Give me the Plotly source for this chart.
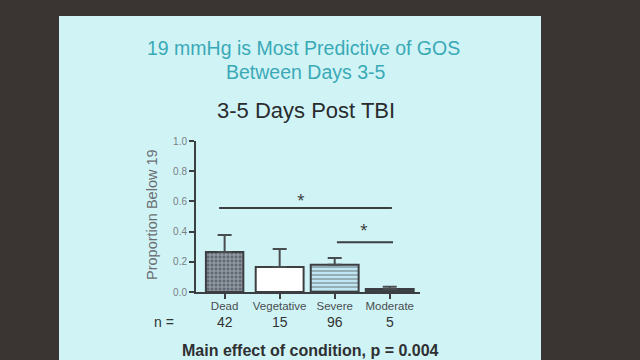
import plotly.graph_objects as go

categories = ["Dead", "Vegetative", "Severe", "Moderate"]
proportion = [0.265, 0.166, 0.18, 0.02]
sem_upper = [0.112, 0.119, 0.045, 0.015]
n_values = [42, 15, 96, 5]
y_ticks = [0.0, 0.2, 0.4, 0.6, 0.8, 1.0]

# significance brackets: (x start, x end, y level, star x, star y)
sig_lines = [(-0.1, 3.04, 0.556, 1.39, 0.615), (2.04, 3.06, 0.33, 2.53, 0.415)]

x_pos = list(range(len(categories)))
bar_widths = [0.68, 0.87, 0.87, 0.87]
fill_colors = ["#5f6874", "#ffffff", "#bfe6f2", "#3d4248"]
pattern_shapes = ["+", "", "-", ""]
pattern_fg = ["#8a96a4", "#ffffff", "#ffffff", "#3d4248"]

L, R, T, B = 196, 220, 141, 68
W, H = 640, 360
PW, PH = W - L - R, H - T - B


def xp(px):
    return (px - L) / PW


def yp(py):
    return (H - B - py) / PH


fig = go.Figure()
fig.add_trace(go.Bar(
    x=x_pos, y=proportion, width=bar_widths,
    marker=dict(color=fill_colors, line=dict(color="#3c3f42", width=2),
                pattern=dict(shape=pattern_shapes, fgcolor=pattern_fg,
                             bgcolor=fill_colors, size=4, solidity=0.35)),
    error_y=dict(type="data", array=sem_upper, arrayminus=[0] * 4,
                 symmetric=False, color="#4a4d50", thickness=2, width=7),
    showlegend=False, hoverinfo="skip",
))

shapes = [
    dict(type="rect", xref="paper", yref="paper",
         x0=xp(59), x1=xp(541), y0=yp(370), y1=yp(16),
         fillcolor="#d0f4f6", line=dict(width=0), layer="below"),
]
annotations = []
for x0, x1, yl, sx, sy in sig_lines:
    shapes.append(dict(type="line", xref="x", yref="y", x0=x0, x1=x1,
                       y0=yl, y1=yl, line=dict(color="#3c3f42", width=2)))
    annotations.append(dict(x=sx, y=sy, xref="x", yref="y", text="*",
                            showarrow=False, font=dict(size=14, color="#333")))


def txt(px, py, text, size, color, angle=0):
    return dict(x=xp(px), y=yp(py), xref="paper", yref="paper", text=text,
                showarrow=False, xanchor="center", yanchor="middle",
                textangle=angle,
                font=dict(size=size, color=color, family="Liberation Sans"))


annotations += [
    txt(303, 48, "19 mmHg is Most Predictive of GOS", 19.5, "#3aa9b6"),
    txt(305, 72, "Between Days 3-5", 19.5, "#3aa9b6"),
    txt(306, 110, "3-5 Days Post TBI", 22, "#2a2c2e"),
    txt(152, 215, "Proportion Below 19", 14.5, "#6a6e72", -90),
    txt(164, 322, "n =", 14, "#333"),
    txt(310, 350, "<b>Main effect of condition, p = 0.004</b>", 16, "#2e3032"),
]
for i, n in enumerate(n_values):
    annotations.append(dict(x=x_pos[i], y=yp(322), xref="x", yref="paper",
                            text=str(n), showarrow=False,
                            xanchor="center", yanchor="middle",
                            font=dict(size=14, color="#333", family="Liberation Sans")))

fig.update_layout(
    width=W, height=H,
    margin=dict(l=L, r=R, t=T, b=B),
    paper_bgcolor="#3a3532", plot_bgcolor="rgba(0,0,0,0)",
    shapes=shapes, annotations=annotations,
    xaxis=dict(range=[-0.52, 3.55], tickvals=x_pos, ticktext=categories,
               showgrid=False, zeroline=False, showline=True,
               linecolor="#3c3f42", linewidth=2, ticks="outside", ticklen=5,
               tickcolor="#3c3f42", tickwidth=2, ticklabelstandoff=-3,
               tickfont=dict(size=11.5, color="#4a4d50", family="Liberation Sans")),
    yaxis=dict(range=[0, 1.0], tickvals=y_ticks, tickformat=".1f",
               showgrid=False, zeroline=False, showline=True,
               linecolor="#3c3f42", linewidth=2, ticks="outside", ticklen=5,
               tickcolor="#3c3f42", tickwidth=2,
               tickfont=dict(size=10, color="#7a7e82", family="Liberation Sans")),
)

fig.write_html("out.html", config={"displayModeBar": False},
               post_script="document.body.style.margin='0';")
